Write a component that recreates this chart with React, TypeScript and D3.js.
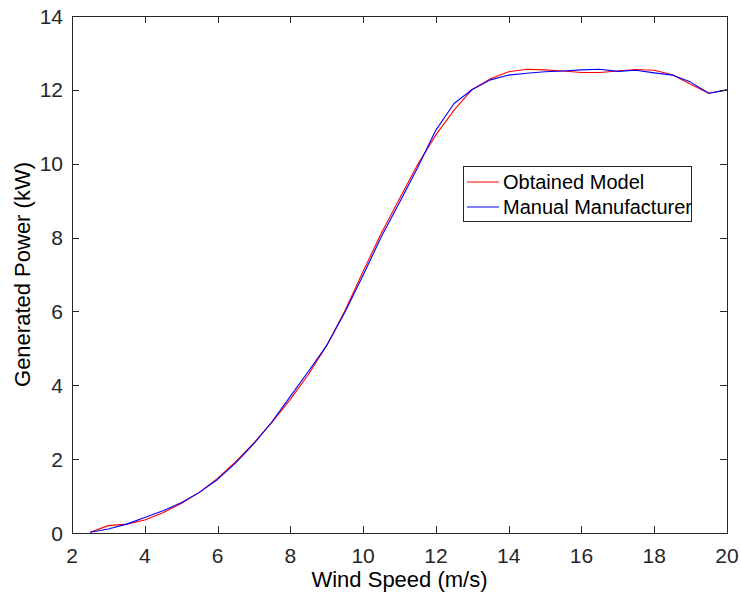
import React, { useEffect, useRef } from "react";
import * as d3 from "d3";

// wind speed samples (m/s)
const windSpeed = [
  2.5, 3, 3.5, 4, 4.5, 5, 5.5, 6, 6.5, 7, 7.5, 8, 8.5, 9, 9.5, 10, 10.5, 11,
  11.5, 12, 12.5, 13, 13.5, 14, 14.5, 15, 15.5, 16, 16.5, 17, 17.5, 18, 18.5,
  19, 19.5, 20,
];

// generated power (kW)
const obtainedModel = [
  0.02, 0.2, 0.24, 0.35, 0.55, 0.8, 1.1, 1.48, 1.93, 2.44, 3.0, 3.62, 4.3,
  5.08, 6.02, 7.08, 8.12, 9.05, 9.98, 10.78, 11.45, 12.01, 12.3, 12.49, 12.56,
  12.54, 12.51, 12.47, 12.47, 12.51, 12.55, 12.53, 12.41, 12.15, 11.91, 12.0,
];
const manualManufacturer = [
  0.02, 0.11, 0.24, 0.42, 0.6, 0.82, 1.1, 1.45, 1.9, 2.42, 3.02, 3.7, 4.38,
  5.08, 5.98, 6.98, 8.02, 8.95, 9.9, 10.91, 11.63, 12.01, 12.27, 12.4, 12.45,
  12.49, 12.51, 12.54, 12.56, 12.5, 12.53, 12.46, 12.4, 12.21, 11.91, 12.0,
];

const xTicks = [2, 4, 6, 8, 10, 12, 14, 16, 18, 20];
const yTicks = [0, 2, 4, 6, 8, 10, 12, 14];

const seriesNames = ["Obtained Model", "Manual Manufacturer"];
const seriesColors = ["#ff0000", "#0000ff"];

export default function App() {
  const ref = useRef<SVGSVGElement>(null);

  useEffect(() => {
    const width = 741,
      height = 602;
    const left = 72,
      right = 727,
      top = 16,
      bottom = 533;
    const axisColor = "#262626";
    const tickLen = 7;

    const svg = d3.select(ref.current);
    svg.selectAll("*").remove();
    svg.attr("width", width).attr("height", height);

    const x = d3.scaleLinear().domain([2, 20]).range([left, right]);
    const y = d3.scaleLinear().domain([0, 14]).range([bottom, top]);

    const font = "'Liberation Sans', Arial, Helvetica, sans-serif";

    // white plot background
    svg.append("rect")
      .attr("x", left).attr("y", top)
      .attr("width", right - left).attr("height", bottom - top)
      .attr("fill", "#fff");

    // data lines
    const series = [obtainedModel, manualManufacturer];
    const line = d3.line<number>()
      .x((d, i) => x(windSpeed[i]))
      .y((d) => y(d));
    series.forEach((s, k) => {
      svg.append("path")
        .datum(s)
        .attr("d", line)
        .attr("fill", "none")
        .attr("stroke", seriesColors[k])
        .attr("stroke-width", 1.1)
        .attr("stroke-linejoin", "round");
    });

    // box + ticks
    const g = svg.append("g").attr("stroke", axisColor).attr("stroke-width", 1).attr("fill", "none");
    g.append("rect")
      .attr("x", left + 0.5).attr("y", top + 0.5)
      .attr("width", right - left).attr("height", bottom - top);

    xTicks.forEach((t) => {
      const px = Math.round(x(t)) + 0.5;
      g.append("line").attr("x1", px).attr("x2", px).attr("y1", bottom).attr("y2", bottom - tickLen);
      g.append("line").attr("x1", px).attr("x2", px).attr("y1", top).attr("y2", top + tickLen);
    });
    yTicks.forEach((t) => {
      const py = Math.round(y(t)) + 0.5;
      g.append("line").attr("x1", left).attr("x2", left + tickLen).attr("y1", py).attr("y2", py);
      g.append("line").attr("x1", right).attr("x2", right - tickLen).attr("y1", py).attr("y2", py);
    });

    // tick labels
    svg.selectAll(".xtick").data(xTicks).join("text")
      .attr("class", "xtick")
      .attr("x", (d) => x(d)).attr("y", 563)
      .attr("text-anchor", "middle")
      .attr("font-family", font).attr("font-size", 21)
      .attr("fill", axisColor)
      .text((d) => d);

    svg.selectAll(".ytick").data(yTicks).join("text")
      .attr("class", "ytick")
      .attr("x", 63).attr("y", (d) => y(d) + 7.5)
      .attr("text-anchor", "end")
      .attr("font-family", font).attr("font-size", 21)
      .attr("fill", axisColor)
      .text((d) => d);

    // axis labels
    svg.append("text")
      .attr("x", (left + right) / 2).attr("y", 587)
      .attr("text-anchor", "middle")
      .attr("font-family", font).attr("font-size", 22)
      .attr("fill", "#000")
      .text("Wind Speed (m/s)");

    svg.append("text")
      .attr("transform", `translate(30, ${(top + bottom) / 2}) rotate(-90)`)
      .attr("text-anchor", "middle")
      .attr("font-family", font).attr("font-size", 22)
      .attr("fill", "#000")
      .text("Generated Power (kW)");

    // legend
    const lg = svg.append("g");
    lg.append("rect")
      .attr("x", 463.5).attr("y", 166.5)
      .attr("width", 228).attr("height", 55)
      .attr("fill", "#fff").attr("stroke", axisColor).attr("stroke-width", 1);
    seriesNames.forEach((name, k) => {
      const ly = 182 + k * 25;
      lg.append("line")
        .attr("x1", 467).attr("x2", 499)
        .attr("y1", ly).attr("y2", ly)
        .attr("stroke", seriesColors[k]).attr("stroke-width", 1);
      lg.append("text")
        .attr("x", 503).attr("y", ly + 7)
        .attr("font-family", font).attr("font-size", 20)
        .attr("fill", "#000")
        .text(name);
    });
  }, []);

  return <svg ref={ref} style={{ display: "block", position: "absolute", left: 0, top: 0 }}></svg>;
}
